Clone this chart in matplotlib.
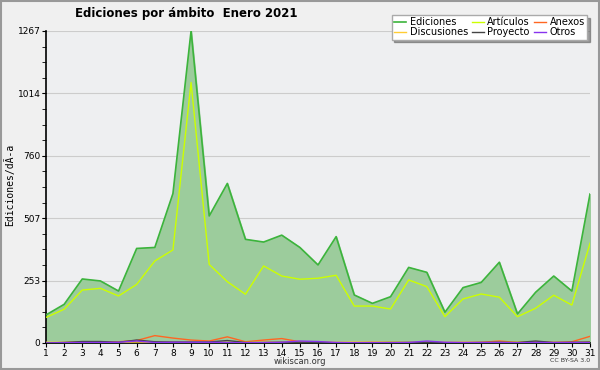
import matplotlib
matplotlib.use("Agg")
import matplotlib.pyplot as plt
from matplotlib.patches import Rectangle
from matplotlib.ticker import MultipleLocator
import numpy as np

# datos
dias = list(range(1, 32))
ediciones = [114, 157, 260, 252, 211, 384, 388, 607, 1267, 516, 648, 421, 410, 438, 388,
             317, 432, 195, 161, 188, 307, 287, 125, 225, 246, 328, 118, 206, 272, 211, 605]
articulos = [104, 137, 215, 222, 191, 238, 333, 378, 1058, 319, 249, 198, 313, 272, 259,
             263, 275, 150, 150, 138, 256, 229, 107, 179, 199, 186, 107, 141, 194, 154, 405]
anexos = [1, 2, 4, 4, 5, 10, 30, 20, 12, 8, 25, 5, 12, 18, 5,
          3, 2, 2, 3, 2, 2, 3, 2, 2, 3, 8, 2, 5, 2, 5, 27]
discusiones = [3, 2, 2, 3, 3, 4, 3, 3, 2, 3, 3, 2, 4, 3, 4,
               2, 2, 3, 2, 3, 2, 2, 2, 3, 2, 2, 3, 2, 3, 2, 5]
proyecto = [0, 2, 6, 6, 3, 12, 5, 4, 4, 4, 10, 2, 2, 3, 3,
            2, 1, 1, 1, 2, 2, 2, 1, 1, 2, 3, 2, 8, 2, 3, 4]
otros = [0, 1, 2, 2, 3, 8, 2, 3, 3, 3, 2, 1, 2, 3, 8,
         6, 2, 1, 1, 1, 2, 8, 3, 2, 2, 2, 1, 2, 2, 2, 2]
yticks = [0, 253, 507, 760, 1014, 1267]

fig = plt.figure(figsize=(6, 3.7), dpi=100, facecolor='#f0f0f0')
ax = fig.add_axes([46/600, 27/370, 544/600, 312/370])
ax.set_facecolor('#eeeff1')

ax.fill_between(dias, ediciones, 0, color='#9ccc9c', zorder=1)
l_ed, = ax.plot(dias, ediciones, color='#3cb43c', lw=1.2, zorder=3)
l_ar, = ax.plot(dias, articulos, color='#ccff00', lw=1.0, zorder=3)
l_an, = ax.plot(dias, anexos, color='#ff6622', lw=1.0, zorder=3)
l_di, = ax.plot(dias, discusiones, color='#ffcc33', lw=1.0, zorder=3)
l_pr, = ax.plot(dias, proyecto, color='#444444', lw=1.0, zorder=3)
l_ot, = ax.plot(dias, otros, color='#8833ee', lw=1.0, zorder=3)

ax.set_xlim(1, 31)
ax.set_ylim(0, 1267)
ax.set_xticks(dias)
ax.set_yticks(yticks)
ax.set_yticklabels([str(v) for v in yticks])
ax.yaxis.set_minor_locator(MultipleLocator(1267/20))
ax.tick_params(axis='both', labelsize=6.5, length=3, direction='out', pad=1)
ax.tick_params(axis='y', which='minor', length=3)
ax.grid(axis='y', color='#cccccc', lw=0.8, zorder=0)
ax.set_axisbelow(True)
for s in ['top', 'right']:
    ax.spines[s].set_visible(False)
ax.spines['left'].set_linewidth(1.2)
ax.spines['bottom'].set_linewidth(1.2)

fig.text(10/600, 0.5, 'Ediciones/dÃ-a', fontsize=7, family='DejaVu Sans Mono',
         rotation=90, ha='center', va='center')

fig.text(186/600, 1 - 14/370, 'Ediciones por ámbito  Enero 2021', fontsize=8.5, fontweight='bold',
         ha='center', va='center')
fig.text(0.5, 1 - 361/370, 'wikiscan.org', fontsize=6, ha='center', va='center', color='#333333')
fig.text(0.983, 1 - 361/370, 'CC BY-SA 3.0', fontsize=4.5, ha='right', va='center', color='#333333')

# marco de la figura
fig.patches.append(Rectangle((0.001, 0.002), 0.997, 0.995, transform=fig.transFigure,
                             fill=False, edgecolor='#999999', lw=1.5))

handles = [l_ed, l_di, l_ar, l_pr, l_an, l_ot]
labels = ['Ediciones', 'Discusiones', 'Artículos', 'Proyecto', 'Anexos', 'Otros']
leg = fig.legend(handles, labels, ncol=3, loc='upper right',
                 bbox_to_anchor=(592/600, 1 - 10/370), fontsize=7,
                 frameon=True, fancybox=False, shadow=True, handlelength=1.2,
                 handletextpad=0.4, columnspacing=0.4, labelspacing=0.0,
                 borderpad=0.25, edgecolor='#aaaaaa', facecolor='white', framealpha=1)

fig.savefig('out.png', dpi=100, facecolor=fig.get_facecolor())
